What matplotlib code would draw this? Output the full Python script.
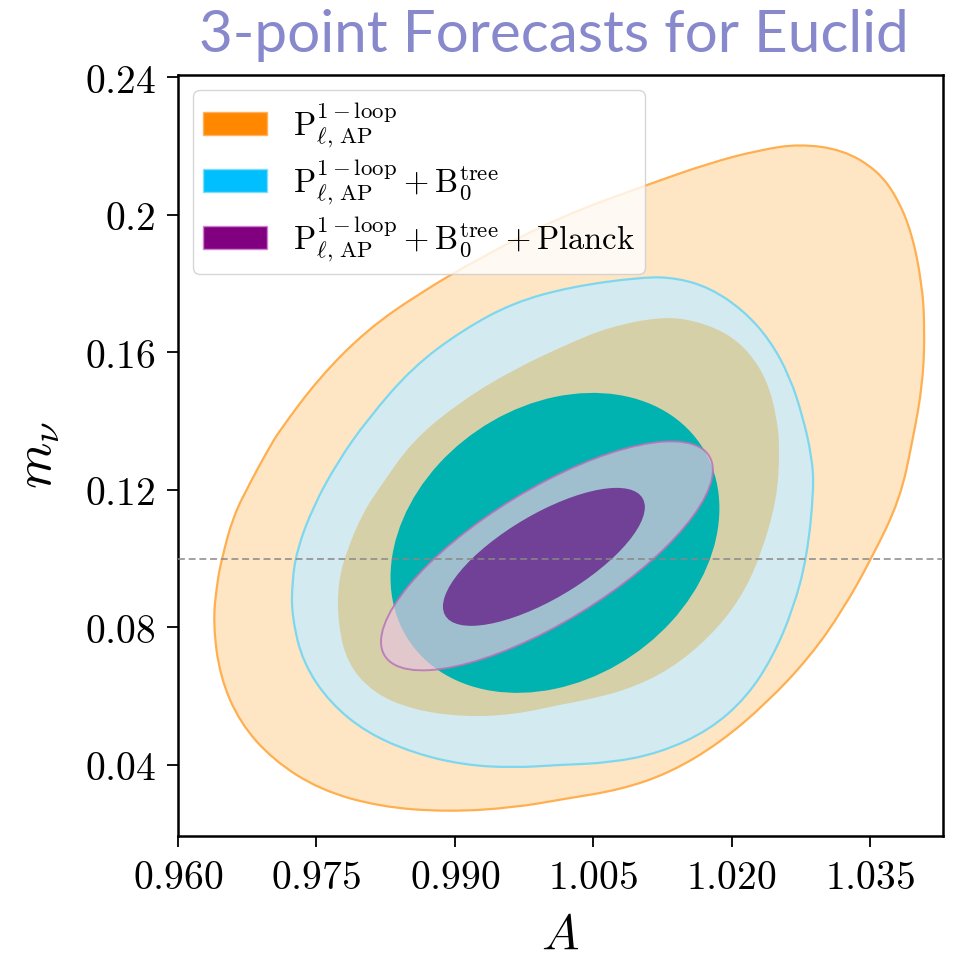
import numpy as np
import matplotlib
matplotlib.use("Agg")
import matplotlib.pyplot as plt
from matplotlib.path import Path
from matplotlib.patches import PathPatch, Circle, Patch
from matplotlib.transforms import Affine2D

plt.rcParams["mathtext.fontset"] = "cm"
plt.rcParams["font.family"] = ["DejaVu Sans"]

# --- data (A, m_nu) ---
# outer (95%) contour of P_l,AP 1-loop
orange_2s_A = [0.96379, 0.96423, 0.96477, 0.96596, 0.96780, 0.96975, 0.97105, 0.97538,
               0.98048, 0.98622, 0.99272, 1.00139, 1.01081, 1.01764, 1.02306, 1.02739,
               1.03205, 1.03573, 1.03790, 1.03952, 1.04061, 1.04093, 1.04072, 1.03963,
               1.03822, 1.03519, 1.03205, 1.02847, 1.02381, 1.01872, 1.01330, 1.00789,
               1.00193, 0.99629, 0.98914, 0.98189, 0.97538, 0.97029, 0.96672, 0.96455]
orange_2s_m = [0.08131, 0.09295, 0.10022, 0.11215, 0.12204, 0.13164, 0.13745, 0.15287,
               0.16655, 0.17731, 0.18749, 0.19942, 0.20873, 0.21513, 0.21891, 0.22065,
               0.21891, 0.21309, 0.20524, 0.19476, 0.18022, 0.16742, 0.15113, 0.13455,
               0.11709, 0.10022, 0.08509, 0.07142, 0.05804, 0.04640, 0.03767, 0.03273,
               0.03011, 0.02749, 0.02633, 0.02778, 0.03273, 0.04145, 0.05222, 0.06560]

# inner (68%) contour of P_l,AP 1-loop
orange_1s_A = [0.97733, 0.97733, 0.97831, 0.98004, 0.98167, 0.98546, 0.99088, 0.99629,
               1.00247, 1.00680, 1.01222, 1.01580, 1.01948, 1.02197, 1.02381, 1.02490,
               1.02522, 1.02490, 1.02306, 1.02089, 1.01764, 1.01330, 1.00865, 1.00431,
               1.00139, 0.99629, 0.99088, 0.98546, 0.98113, 0.97831]
orange_1s_m = [0.08131, 0.09295, 0.10255, 0.11331, 0.12000, 0.13455, 0.14618, 0.15491,
               0.16276, 0.16742, 0.17033, 0.16945, 0.16567, 0.15985, 0.15200, 0.14124,
               0.13164, 0.11709, 0.10022, 0.08800, 0.07724, 0.06764, 0.06182, 0.05891,
               0.05745, 0.05455, 0.05396, 0.05600, 0.06095, 0.06967]

# outer (95%) contour of P + B_0
blue_2s_A = [0.97235, 0.97235, 0.97289, 0.97463, 0.97723, 0.98048, 0.98546, 0.99088,
             0.99629, 1.00247, 1.01038, 1.01406, 1.01764, 1.02121, 1.02414, 1.02631,
             1.02771, 1.02869, 1.02891, 1.02815, 1.02663, 1.02446, 1.02165, 1.01764,
             1.01222, 1.00680, 1.00139, 0.99629, 0.99088, 0.98546, 0.98048, 0.97647,
             0.97354]
blue_2s_m = [0.08305, 0.09295, 0.10255, 0.11505, 0.12785, 0.14036, 0.15578, 0.16655,
             0.17440, 0.17905, 0.18196, 0.18167, 0.17876, 0.17236, 0.16364, 0.15287,
             0.14124, 0.12960, 0.12000, 0.10022, 0.08509, 0.07142, 0.05978, 0.05018,
             0.04349, 0.04058, 0.04000, 0.03913, 0.04000, 0.04349, 0.04931, 0.05804,
             0.06967]

# near-gaussian contours: centre A, centre m, half-width A, half-height m, correlation
blue_1s = (1.00085, 0.10458, 0.01782, 0.04364, 0.23)
purple_2s = (0.99998, 0.10080, 0.01798, 0.03331, 0.75)
purple_1s = (0.99965, 0.10051, 0.01094, 0.02007, 0.72)

m_nu_fid = 0.1

xticks = [0.960, 0.975, 0.990, 1.005, 1.020, 1.035]
xtick_labels = ["0.960", "0.975", "0.990", "1.005", "1.020", "1.035"]
yticks = [0.04, 0.08, 0.12, 0.16, 0.2, 0.24]
ytick_labels = ["0.04", "0.08", "0.12", "0.16", "0.2", "0.24"]

P = r"\mathrm{P}_{\ell,\,\mathrm{AP}}^{1-\mathrm{loop}}"
B = r"\mathrm{B}_0^{\mathrm{tree}}"
labels = [f"${P}$", f"${P}+{B}$", f"${P}+{B}+\\mathrm{{Planck}}$"]
legend_colors = ["#FF8800", "#00BFFF", "#800080"]
legend_edges = ["#FFB060", "#80DDF5", "#D080D0"]


def smooth_closed(xs, ys):
    # closed quadratic-bezier path through the read boundary points
    pts = np.column_stack([xs, ys])
    nxt = np.roll(pts, -1, axis=0)
    mids = (pts + nxt) / 2
    verts = [mids[-1]]
    codes = [Path.MOVETO]
    for p, m in zip(pts, mids):
        verts += [p, m]
        codes += [Path.CURVE3, Path.CURVE3]
    return Path(verts, codes)


def add_contour(ax, xs, ys, **kw):
    ax.add_patch(PathPatch(smooth_closed(xs, ys), **kw))


def add_ellipse(ax, params, **kw):
    cx, cy, sx, sy, rho = params
    tr = Affine2D.from_values(sx, rho * sy, 0, np.sqrt(1 - rho**2) * sy, cx, cy)
    ax.add_patch(Circle((0, 0), 1, transform=tr + ax.transData, **kw))


fig = plt.figure(figsize=(9.56, 9.63), dpi=100)
ax = fig.add_axes([0.1862, 0.1319, 0.8002, 0.7902])

add_contour(ax, orange_2s_A, orange_2s_m, facecolor="#FEE5C4",
            edgecolor="#FFAF50", lw=1.6, zorder=1)
add_contour(ax, blue_2s_A, blue_2s_m, facecolor="#D3EBF0",
            edgecolor="#7DD7EE", lw=1.6, zorder=2)
add_contour(ax, orange_1s_A, orange_1s_m, facecolor="#D6D0A9",
            edgecolor="none", zorder=3)
add_ellipse(ax, blue_1s, facecolor="#00B2B0", edgecolor="none", zorder=4)
add_ellipse(ax, purple_2s, facecolor=(231 / 255, 197 / 255, 221 / 255, 0.69),
            edgecolor=(0.72, 0.45, 0.72, 0.85), lw=1.4, zorder=5)
add_ellipse(ax, purple_1s, facecolor="#704196", edgecolor="none", zorder=6)

ax.axhline(m_nu_fid, color="#888888", lw=1.1, ls=(0, (4.5, 2.5)), zorder=7)

ax.set_xlim(0.960, 1.0429)
ax.set_ylim(0.0193, 0.2407)
ax.set_xticks(xticks)
ax.set_xticklabels([f"${t}$" for t in xtick_labels])
ax.set_yticks(yticks)
ax.set_yticklabels([f"${t}$" for t in ytick_labels])
ax.tick_params(labelsize=28.5, length=8, width=1.3, pad=8)
for s in ax.spines.values():
    s.set_linewidth(1.8)

ax.set_xlabel("$A$", fontsize=36, labelpad=9)
ax.set_ylabel(r"$m_\nu$", fontsize=38, labelpad=16)

handles = [Patch(facecolor=c, edgecolor=e, lw=1) for c, e in zip(legend_colors, legend_edges)]
leg = ax.legend(handles, labels, loc="upper left", fontsize=23.5, handlelength=1.95,
                borderaxespad=0.47, labelspacing=0.22, borderpad=0.3, framealpha=0.8)
leg.set_zorder(10)

fig.text(0.579, 0.946, "3-point Forecasts for Euclid", fontsize=42, family="Lato",
         color="#8888CC", ha="center", va="baseline")

fig.savefig("out.png", dpi=100)
